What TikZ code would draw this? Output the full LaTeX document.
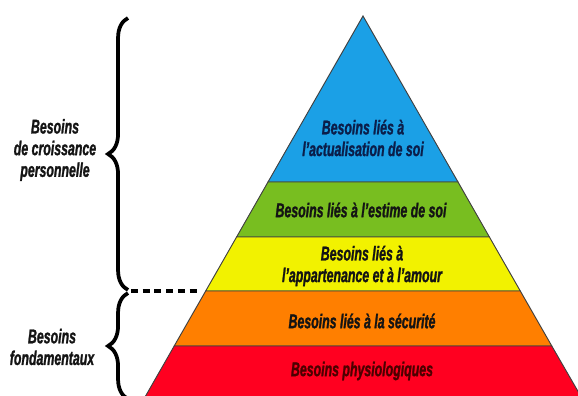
\documentclass[tikz,border=0pt]{standalone}
\usepackage{fontspec}
\setmainfont{Liberation Sans}[FakeStretch=0.62,FakeBold=1.2]
\usetikzlibrary{decorations.pathreplacing}
\definecolor{blueL}{HTML}{1BA0E6}
\definecolor{greenL}{HTML}{78BE20}
\definecolor{yellowL}{HTML}{F2F200}
\definecolor{orangeL}{HTML}{FF7F00}
\definecolor{redL}{HTML}{FF0020}
\definecolor{navyT}{HTML}{0B1E4A}
\tikzstyle{layer}=[draw=black!75,line width=0.8pt]
\tikzstyle{lbl}=[align=center,font=\fontsize{17}{18.5}\selectfont\bfseries\itshape,text=black!92]
\tikzstyle{brc}=[decorate,decoration={brace,amplitude=17pt},line width=3.2pt]
\tikzstyle{sep}=[line width=2.6pt,dash pattern=on 6pt off 4pt]

\begin{document}
\begin{tikzpicture}[x=0.03cm,y=-0.03cm]

  \useasboundingbox (0,0) rectangle (578,396);
  \clip (0,0) rectangle (578,396);
  \fill[white] (0,0) rectangle (578,396);

  % pyramid, top to bottom
  \filldraw[layer,fill=blueL] (363,16)--(458,182)--(268,182)--cycle;
  \filldraw[layer,fill=greenL] (268,182)--(458,182)--(489.4,237)--(236.6,237)--cycle;
  \filldraw[layer,fill=yellowL] (236.6,237)--(489.4,237)--(520.3,291)--(205.7,291)--cycle;
  \filldraw[layer,fill=orangeL] (205.7,291)--(520.3,291)--(551.8,346)--(174.2,346)--cycle;
  \filldraw[layer,fill=redL] (174.2,346)--(551.8,346)--(583,400)--(143.3,400)--cycle;

  \node[lbl,text=navyT] (S) at (363,138) {Besoins liés à\\l'actualisation de soi};
  \node[lbl] (E) at (361,210) {Besoins liés à l'estime de soi};
  \node[lbl] (A) at (362,266) {Besoins liés à\\l'appartenance et à l'amour};
  \node[lbl] (Sec) at (362,321) {Besoins liés à la sécurité};
  \node[lbl,text=black!70!red] (Ph) at (362,371) {Besoins physiologiques};

  % braces on the left
  \draw[brc] (128,290)--(128,18);
  \draw[brc] (128,399)--(128,293);
  \node[lbl] (Gr) at (55,150) {Besoins\\de croissance\\personnelle};
  \node[lbl] (Fo) at (52,347) {Besoins\\fondamentaux};

  \coordinate (d1) at (131,291);
  \coordinate (d2) at (201,291);
  \draw[sep] (d1)--(d2);

\end{tikzpicture}
\end{document}
